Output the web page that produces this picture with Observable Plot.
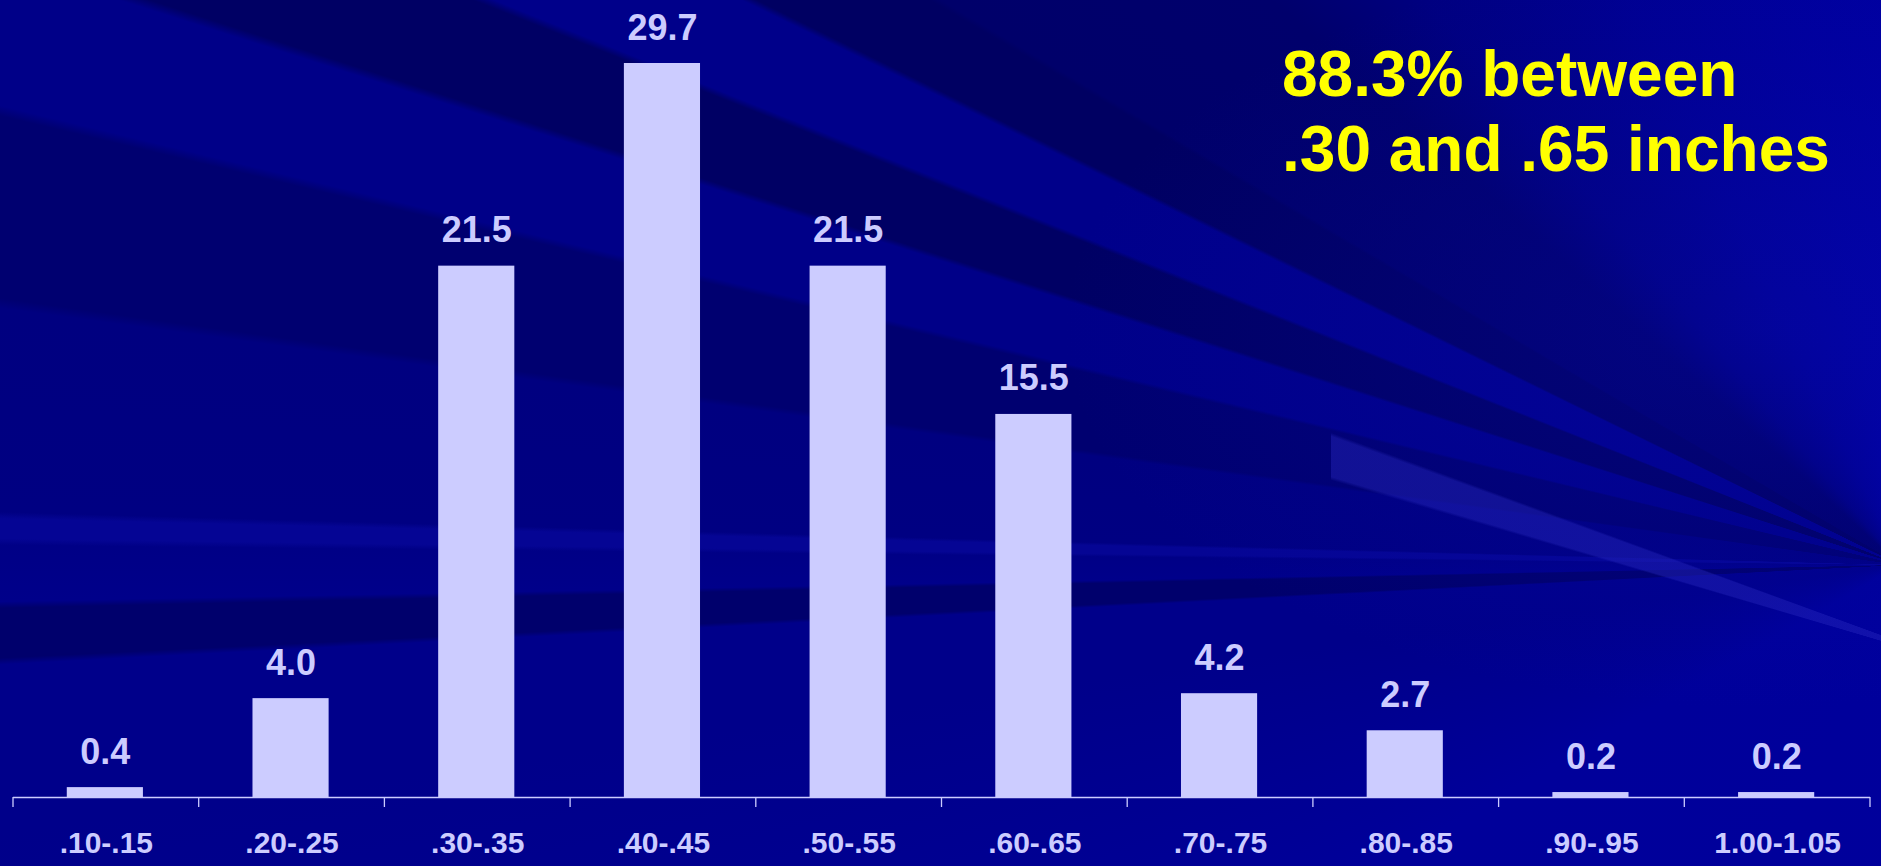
<!DOCTYPE html>
<html>
<head>
<meta charset="utf-8">
<script src="https://cdn.jsdelivr.net/npm/d3@7"></script>
<script src="https://cdn.jsdelivr.net/npm/@observablehq/plot@0.6"></script>
<style>
  html, body { margin: 0; padding: 0; }
  body {
    width: 1881px; height: 866px; overflow: hidden; position: relative;
    font-family: "Liberation Sans", Arial, sans-serif;
    background:
      radial-gradient(ellipse 700px 380px at 1760px 330px, rgba(12,16,190,0.28) 0%, rgba(12,16,190,0) 100%),
      conic-gradient(from 0deg at 1900px 565px,
        #0000a0 0deg, #00009a 240deg, #00008a 262deg,
        #00008a 267deg, #00006c 267.2deg, #00006c 268.7deg, #00008a 268.9deg,
        #000086 270.6deg, #050594 270.8deg, #050594 271.4deg, #000082 271.6deg,
        #000080 277.7deg, #000070 278deg, #000070 283.3deg, #000088 283.6deg,
        #000088 287.6deg, #000064 287.9deg, #000064 291.6deg, #00008a 291.9deg,
        #00008a 296deg, #000062 296.3deg, #000062 300.2deg, #00006a 300.5deg,
        #00006c 312deg, #000080 320deg, #000092 335deg, #00009c 350deg, #0000a0 360deg);
  }
  #beam {
    position: absolute; left: 1331px; top: 0; width: 550px; height: 866px;
    background: conic-gradient(from 0deg at 632px 665px,
      transparent 286.3deg, rgba(40,40,190,0.42) 286.6deg, rgba(40,40,190,0.42) 289.9deg, transparent 290.2deg);
  }
  #chart { position: absolute; left: 0; top: 0; }
  #note {
    position: absolute; left: 1282px; top: 37px;
    font: bold 64px/75px "Liberation Sans", Arial, sans-serif;
    color: #ffff00; white-space: nowrap;
  }
</style>
</head>
<body>
<div id="beam"></div>
<div id="chart"></div>
<div id="note">88.3% between<br>.30 and .65 inches</div>
<script>
const categories = [".10-.15", ".20-.25", ".30-.35", ".40-.45", ".50-.55", ".60-.65", ".70-.75", ".80-.85", ".90-.95", "1.00-1.05"];
const percents = [0.4, 4.0, 21.5, 29.7, 21.5, 15.5, 4.2, 2.7, 0.2, 0.2];
const valueLabels = ["0.4", "4.0", "21.5", "29.7", "21.5", "15.5", "4.2", "2.7", "0.2", "0.2"];

const data = categories.map((c, i) => ({bin: c, pct: percents[i], label: valueLabels[i]}));
const fg = "#ccccff";

// boundary ticks between bins, drawn from the x scale
function boundaryTicks(index, scales, values, dimensions) {
  const x = scales.x;
  const step = typeof x.step === "function" ? x.step() : (x(categories[1]) - x(categories[0]));
  const bw = typeof x.bandwidth === "function" ? x.bandwidth() : x.bandwidth;
  const pos = categories.map(c => x(c) - (step - bw) / 2);
  pos.push(x(categories[categories.length - 1]) + bw + (step - bw) / 2);
  const y0 = dimensions.height - dimensions.marginBottom;
  const g = d3.create("svg:g");
  g.selectAll("line").data(pos).join("line")
    .attr("x1", d => d).attr("x2", d => d)
    .attr("y1", y0).attr("y2", y0 + 10)
    .attr("stroke", fg).attr("stroke-width", 1.3);
  return g.node();
}

const plot = Plot.plot({
  width: 1881,
  height: 866,
  marginLeft: 13,
  marginRight: 11,
  marginTop: 63,
  marginBottom: 69,
  style: {background: "transparent", fontFamily: "'Liberation Sans', Arial, sans-serif", overflow: "visible"},
  x: {type: "band", domain: categories, paddingInner: 0.59, paddingOuter: 0.295, round: false, label: null},
  y: {domain: [0, d3.max(percents)], axis: null},
  marks: [
    Plot.barY(data, {x: "bin", y: "pct", fill: fg, dx: -1}),
    Plot.text(data, {x: "bin", y: "pct", text: "label", lineAnchor: "bottom", dy: -24, dx: -1,
      fill: fg, fontSize: 36, fontWeight: "bold"}),
    Plot.ruleY([0], {stroke: fg, strokeWidth: 1.5}),
    boundaryTicks,
    Plot.axisX({tickSize: 0, tickPadding: 34, fontSize: 30, fontWeight: "bold", color: fg, label: null})
  ]
});
document.getElementById("chart").appendChild(plot);
</script>
</body>
</html>
